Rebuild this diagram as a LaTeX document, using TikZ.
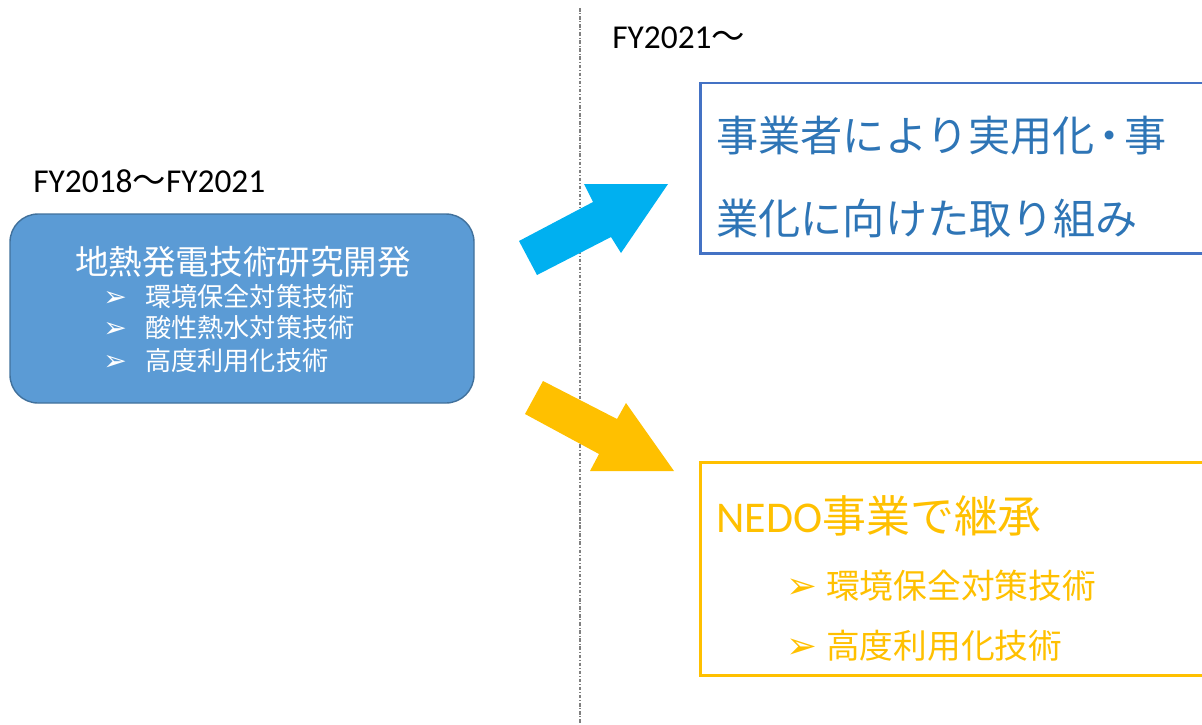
\documentclass[tikz,border=0pt]{standalone}
\usepackage{fontspec}
\setmainfont{Carlito}
\newfontfamily\jp{Noto Sans CJK JP}
\newfontfamily\sym{DejaVu Sans}
\usetikzlibrary{positioning}
\definecolor{devfill}{HTML}{5B9BD5}
\definecolor{devedge}{HTML}{41719C}
\definecolor{arrcyan}{HTML}{00B0F0}
\definecolor{arrgold}{HTML}{FFC000}
\definecolor{frameblue}{HTML}{4472C4}
\definecolor{textblue}{HTML}{2E75B6}
\newcommand{\bulmark}[2]{\makebox[#1][l]{\smash{\sym\fontsize{#2}{#2}\selectfont ➢}}}

\begin{document}
\begin{tikzpicture}[x=0.02cm,y=-0.02cm,
  yearlbl/.style={anchor=west,inner sep=0pt,font=\fontsize{19}{21}\selectfont},
  devtitle/.style={inner sep=0pt,text=white,font=\jp\fontsize{19.1}{22}\selectfont},
  devitem/.style={anchor=west,inner sep=0pt,text=white,font=\jp\fontsize{14.9}{17}\selectfont},
  bigline/.style={anchor=west,inner sep=0pt,font=\jp\fontsize{24}{28}\selectfont},
  golditem/.style={anchor=west,inner sep=0pt,text=arrgold,font=\jp\fontsize{19.2}{22}\selectfont}]
\useasboundingbox (0,0) rectangle (1202,724);
% period divider
\draw[gray,line width=0.75pt,dash pattern=on 2pt off 1pt on 0.6pt off 1pt] (580,8) -- (580,724);
\node[yearlbl] (fyold) at (33,181) {FY2018{\jp 〜}FY2021};
\node[yearlbl] (fynew) at (612,38) {FY2021{\jp 〜}};
% research and development
\draw[rounded corners=16pt,fill=devfill,draw=devedge,line width=0.8pt] (10,214) rectangle (474,403);
\node[devtitle] (dev) at (243,262) {地熱発電技術研究開発};
\node[devitem] (dev1) at (103,297) {\bulmark{23.8pt}{16}環境保全対策技術};
\node[devitem] (dev2) at (103,328) {\bulmark{23.8pt}{16}酸性熱水対策技術};
\node[devitem] (dev3) at (103,361) {\bulmark{23.8pt}{16}高度利用化技術};
% block arrows
\fill[arrcyan] (519,241) -- (593,202) -- (584,184) -- (668,184) -- (621,253) -- (611,237) -- (537,275) -- cycle;
\fill[arrgold] (525,414) -- (543,381) -- (617,419) -- (626,403) -- (674,471) -- (590,471) -- (599,454) -- cycle;
% commercialisation
\draw[frameblue,line width=1.7pt] (700,83) rectangle (1215,253);
\node[bigline,text=textblue] (biz1) at (716,136) {事業者により実用化\kern-3.5pt・\kern-3.5pt事};
\node[bigline,text=textblue] (biz2) at (716,218) {業化に向けた取り組み};
% NEDO
\draw[arrgold,line width=1.7pt] (700,462) rectangle (1215,675);
\node[bigline,text=arrgold,font=\fontsize{25}{28}\selectfont] (nedo) at (716,516) {NEDO{\jp 事業で継承}};
\node[golditem] (nedo1) at (786,586) {\bulmark{22.7pt}{21}環境保全対策技術};
\node[golditem] (nedo2) at (786,646) {\bulmark{22.7pt}{21}高度利用化技術};
\end{tikzpicture}
\end{document}
